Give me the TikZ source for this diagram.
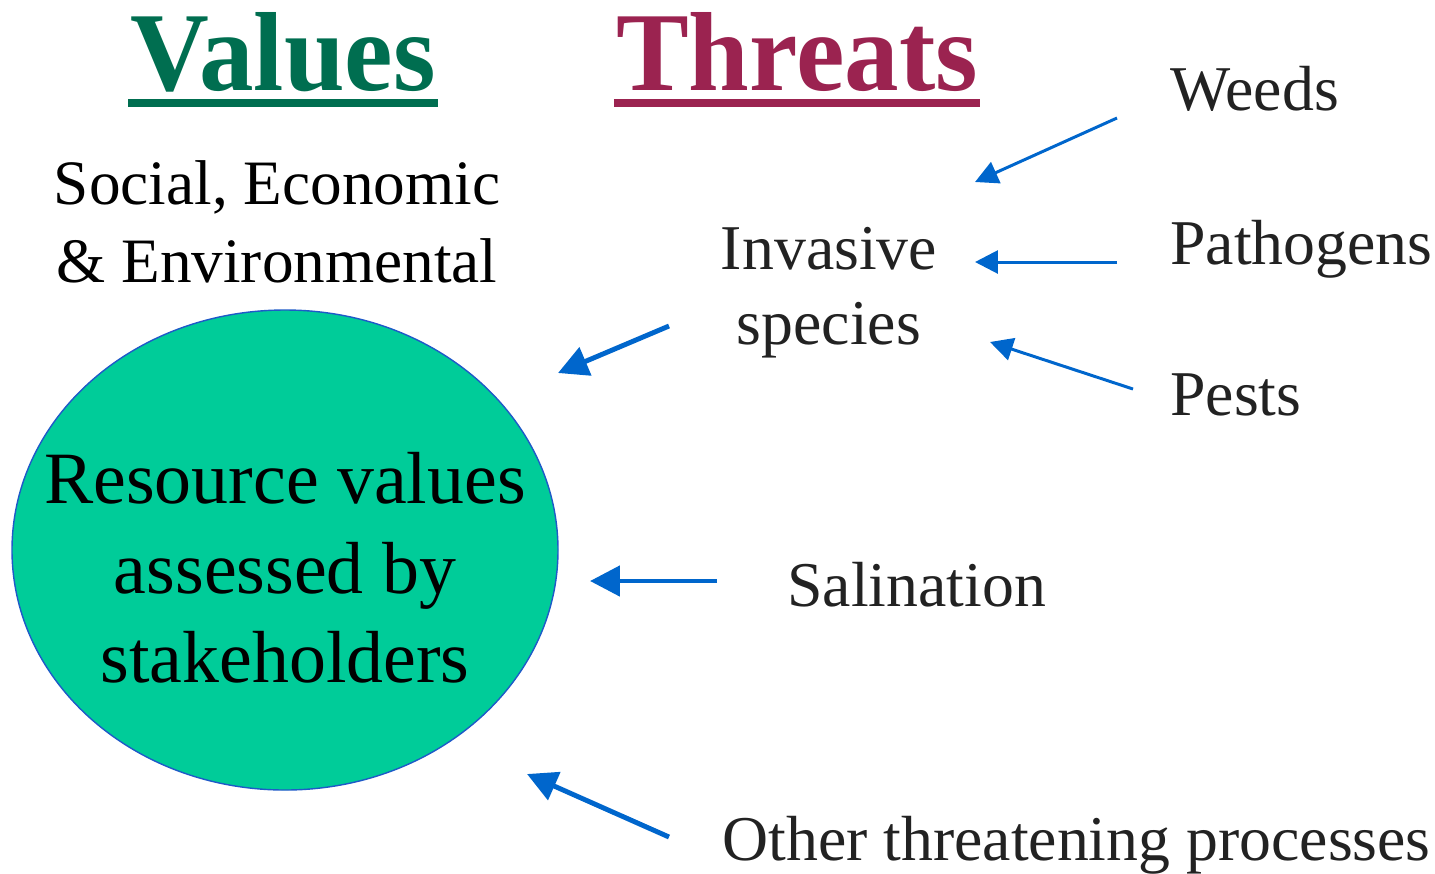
\documentclass[tikz,border=0pt]{standalone}
\usepackage{fontspec}
\setmainfont{Liberation Serif}
\newfontfamily\headfont[FakeStretch=0.97]{Liberation Serif}
\usetikzlibrary{shapes.geometric}
\usetikzlibrary{arrows.meta}
\usetikzlibrary{positioning}
\usetikzlibrary{calc}

\definecolor{valuegreen}{RGB}{0,110,80}
\definecolor{threatred}{RGB}{155,35,80}
\definecolor{arrowblue}{RGB}{0,102,204}
\definecolor{circlefill}{RGB}{0,204,153}
\definecolor{circleline}{RGB}{30,90,200}
\definecolor{textgray}{RGB}{34,34,34}

\begin{document}
\begin{tikzpicture}[
    x=0.02cm, y=-0.02cm,
    heading/.style={
        inner sep=0,
        anchor=base,
        font=\headfont\bfseries\fontsize{64}{64}\selectfont
    },
    threat/.style={
        inner sep=0,
        anchor=base west,
        text=textgray,
        font=\fontsize{36.3}{43}\selectfont
    },
    smallarrow/.style={
        draw=arrowblue,
        line width=1.7pt,
        -{Triangle[length=13pt,width=13pt]}
    },
    bigarrow/.style={
        draw=arrowblue,
        line width=2.8pt,
        -{Triangle[length=17pt,width=17pt]}
    }
]
    \useasboundingbox (0,0) rectangle (1435,873);

    % Titel
    \node (values) [heading, text=valuegreen] at (283,90) {Values};
    \node (threats) [heading, text=threatred] at (797,90) {Threats};
    \draw [valuegreen, line width=4.5pt] ($(values.base west)+(-2,13)$) -- ($(values.base east)+(2,13)$);
    \draw [threatred, line width=4.5pt] ($(threats.base west)+(-2,13)$) -- ($(threats.base east)+(2,13)$);

    \node (kinds) [inner sep=0, align=center, font=\fontsize{36}{44}\selectfont] at (277,222)
        {Social, Economic\\\& Environmental};

    % Ellipse
    \node (resource) [ellipse, draw=circleline, line width=0.8pt, fill=circlefill,
        minimum width=546*0.02cm, minimum height=480*0.02cm, inner sep=0] at (285,550) {};
    \node (resourcetext) [inner sep=0, align=center, font=\fontsize{42}{51}\selectfont] at (285,568)
        {Resource values\\assessed by\\stakeholders};

    % Bedrohungen
    \node (invasive) [inner sep=0, align=center, text=textgray, font=\fontsize{36.3}{42.7}\selectfont] at (829,293)
        {Invasive\\species};
    \node (weeds) [threat] at (1170,110) {Weeds};
    \node (pathogens) [threat] at (1170,264) {Pathogens};
    \node (pests) [threat] at (1170,415) {Pests};
    \node (salination) [threat] at (787,606) {Salination};
    \node (other) [threat] at (722,860) {Other threatening processes};

    % Pfeile
    \coordinate (weeds-out) at (1117,118);
    \coordinate (weeds-in) at (975,182);
    \coordinate (pathogens-out) at (1117,262);
    \coordinate (pathogens-in) at (975,262);
    \coordinate (pests-out) at (1133,389);
    \coordinate (pests-in) at (990,342);
    \coordinate (invasive-out) at (669,326);
    \coordinate (invasive-in) at (558,373);
    \coordinate (salination-out) at (717,581);
    \coordinate (salination-in) at (590,581);
    \coordinate (other-out) at (669,837);
    \coordinate (other-in) at (527,774);

    \draw [smallarrow] (weeds-out) -- (weeds-in);
    \draw [smallarrow] (pathogens-out) -- (pathogens-in);
    \draw [smallarrow] (pests-out) -- (pests-in);
    \draw [bigarrow] (invasive-out) -- (invasive-in);
    \draw [bigarrow] (salination-out) -- (salination-in);
    \draw [bigarrow] (other-out) -- (other-in);
\end{tikzpicture}
\end{document}
